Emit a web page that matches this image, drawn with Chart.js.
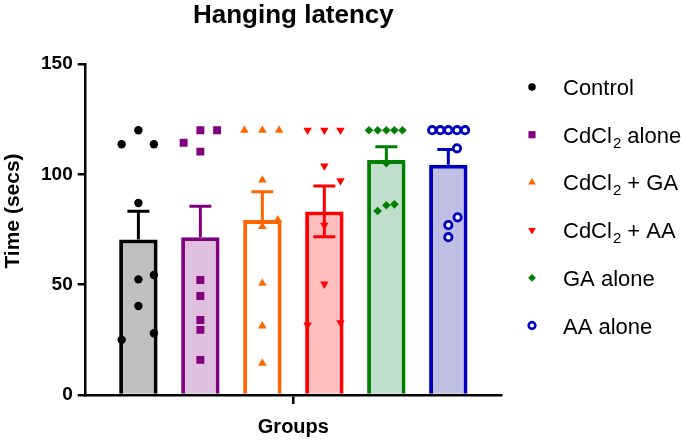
<!DOCTYPE html>
<html>
<head>
<meta charset="utf-8">
<title>Hanging latency</title>
<script src="https://cdn.jsdelivr.net/npm/chart.js@4.4.1/dist/chart.umd.min.js"></script>
<style>
    body { margin: 0; background: #fff; }
    #chart { display: block; }
</style>
</head>
<body>
<canvas id="chart" width="685" height="444"></canvas>
<script>
// Hanging latency: mean + SEM bars with the individual animals on top

const groups = ['Control', 'CdCl₂ alone', 'CdCl₂ + GA', 'CdCl₂ + AA', 'GA alone', 'AA alone'];
const means = [70.5, 71.5, 79.3, 83.2, 106.5, 104.3];
const sems = [12.8, 14.0, 12.8, 11.5, 6.0, 7.0];
const yTicks = [0, 50, 100, 150];

// individual values per group, with the horizontal spread
const controlValues = [120, 113.6, 113.6, 87, 54.4, 52.4, 40.3, 28, 25];
const controlJitter = [0, -0.27, 0.25, 0, 0.25, 0, 0, 0.25, -0.27];
const cdAloneValues = [120, 120, 114.3, 110.3, 52.1, 44.9, 34, 29.5, 15.9];
const cdAloneJitter = [0, 0.27, -0.27, 0, 0, 0, 0, 0, 0];
const cdGaValues = [120, 120, 120, 97.4, 79.3, 76.3, 50.6, 31.3, 14.4];
const cdGaJitter = [-0.29, 0, 0.27, 0, 0.25, 0, 0, 0, 0];
const cdAaValues = [120, 120, 120, 103.8, 97.1, 77, 50.3, 32.8, 31.7];
const cdAaJitter = [-0.27, 0, 0.26, 0, 0.26, 0, 0, 0.26, -0.27];
const gaValues = [120, 120, 120, 120, 120, 105, 86.4, 86, 83.4];
const gaJitter = [-0.28, -0.14, 0, 0.13, 0.26, 0, 0.13, 0, -0.14];
const aaValues = [120, 120, 120, 120, 120, 111.8, 80.5, 77, 71.5];
const aaJitter = [-0.26, -0.13, 0, 0.14, 0.27, 0.14, 0.15, 0, 0];

const pointValues = [controlValues, cdAloneValues, cdGaValues, cdAaValues, gaValues, aaValues];
const pointJitter = [controlJitter, cdAloneJitter, cdGaJitter, cdAaJitter, gaJitter, aaJitter];

// styles
const barFills = ['#bfbfbf', '#dfc0df', '#ffffff', '#ffbfbf', '#bfdfcc', '#bfbfe3'];
const lineColors = ['#000000', '#800080', '#ff6600', '#ff0000', '#008000', '#0000c0'];
const markers = [
    { style: 'circle', radius: 4.2, rotation: 0, fill: true },
    { style: 'rect', radius: 5.6, rotation: 0, fill: true },
    { style: 'triangle', radius: 4.9, rotation: 0, fill: true },
    { style: 'triangle', radius: 4.9, rotation: 180, fill: true },
    { style: 'rectRot', radius: 4.3, rotation: 0, fill: true },
    { style: 'circle', radius: 3.7, rotation: 0, fill: false }
];
const errorBoth = [false, false, false, true, false, false];

const FONT = '"Liberation Sans", Arial, Helvetica, sans-serif';

// scatter datasets first so they are drawn over the bars
const datasets = groups.map((name, g) => ({
    type: 'scatter',
    label: name,
    data: pointValues[g].map((v, i) => ({ x: g + 1 + pointJitter[g][i], y: v })),
    pointStyle: markers[g].style,
    pointRadius: markers[g].radius,
    rotation: markers[g].rotation,
    pointBackgroundColor: markers[g].fill ? lineColors[g] : '#ffffff',
    pointBorderColor: lineColors[g],
    pointBorderWidth: markers[g].fill ? 0 : 2.8,
    order: 1
}));

datasets.push({
    type: 'bar',
    label: 'Mean',
    data: means.map((m, g) => ({ x: g + 1, y: m })),
    backgroundColor: barFills,
    borderColor: lineColors,
    borderWidth: 4,
    borderSkipped: 'bottom',
    categoryPercentage: 1,
    barPercentage: 0.62,
    order: 2
});

// mean + SEM whiskers, drawn straight after the bars
const errorBars = {
    id: 'errorBars',
    afterDatasetDraw(chart, args) {
        if (args.meta.type !== 'bar') return;
        const ctx = chart.ctx;
        const y = chart.scales.y;
        ctx.save();
        ctx.lineWidth = 3;
        args.meta.data.forEach((bar, g) => {
            const top = y.getPixelForValue(means[g] + sems[g]);
            const mid = y.getPixelForValue(means[g]);
            const low = y.getPixelForValue(means[g] - sems[g]);
            ctx.strokeStyle = lineColors[g];
            ctx.beginPath();
            ctx.moveTo(bar.x, errorBoth[g] ? low : mid);
            ctx.lineTo(bar.x, top);
            ctx.moveTo(bar.x - 11, top);
            ctx.lineTo(bar.x + 11, top);
            if (errorBoth[g]) {
                ctx.moveTo(bar.x - 11, low);
                ctx.lineTo(bar.x + 11, low);
            }
            ctx.stroke();
        });
        ctx.restore();
    }
};

// title, y axis title and the legend with subscripts
const labels = {
    id: 'labels',
    afterDraw(chart) {
        const ctx = chart.ctx;
        const area = chart.chartArea;
        ctx.save();
        ctx.fillStyle = '#000';
        ctx.textAlign = 'center';
        ctx.textBaseline = 'alphabetic';
        ctx.font = 'bold 26px ' + FONT;
        ctx.fillText('Hanging latency', (area.left + area.right) / 2, 23);

        ctx.save();
        ctx.translate(13, 211);
        ctx.rotate(-Math.PI / 2);
        ctx.textBaseline = 'middle';
        ctx.font = 'bold 21px ' + FONT;
        ctx.fillText('Time (secs)', 0, 0);
        ctx.restore();

        ctx.textAlign = 'left';
        groups.forEach((name, g) => {
            const rowY = 87 + g * 47.7;
            const m = markers[g];
            ctx.fillStyle = m.fill ? lineColors[g] : '#ffffff';
            ctx.strokeStyle = lineColors[g];
            ctx.lineWidth = m.fill ? 0 : 2.6;
            Chart.helpers.drawPoint(ctx, {
                pointStyle: m.style,
                rotation: m.rotation,
                radius: m.radius * 0.9,
                borderWidth: m.fill ? 0 : 2.6
            }, 532, rowY);

            ctx.fillStyle = '#000';
            let x = 563;
            const base = rowY + 8;
            const parts = name.split('₂');
            parts.forEach((part, i) => {
                ctx.font = '22px ' + FONT;
                ctx.fillText(part, x, base);
                x += ctx.measureText(part).width;
                if (i < parts.length - 1) {
                    ctx.font = '15px ' + FONT;
                    ctx.fillText('2', x + 1, base + 5);
                    x += ctx.measureText('2').width + 1;
                }
            });
        });
        ctx.restore();
    }
};

new Chart(document.getElementById('chart'), {
    type: 'bar',
    data: { datasets: datasets },
    options: {
        responsive: false,
        animation: false,
        layout: { padding: { top: 64, right: 184, bottom: 5, left: 36 } },
        plugins: {
            legend: { display: false },
            title: { display: false },
            tooltip: { enabled: false }
        },
        scales: {
            x: {
                type: 'linear',
                min: 0.15,
                max: 6.85,
                offset: false,
                afterBuildTicks: scale => { scale.ticks = [{ value: (1 + groups.length) / 2 }]; },
                ticks: { display: false },
                grid: {
                    offset: false,
                    drawOnChartArea: false,
                    drawTicks: true,
                    tickLength: 9,
                    color: '#000',
                    lineWidth: 2.5
                },
                border: { display: true, color: '#000', width: 2.5 },
                title: {
                    display: true,
                    text: 'Groups',
                    color: '#000',
                    font: { family: FONT, size: 20, weight: 'bold' },
                    padding: { top: 11, bottom: 0 }
                }
            },
            y: {
                min: 0,
                max: 150,
                afterBuildTicks: scale => { scale.ticks = yTicks.map(v => ({ value: v })); },
                ticks: {
                    color: '#000',
                    padding: 5,
                    font: { family: FONT, size: 19, weight: 'bold' }
                },
                grid: {
                    drawOnChartArea: false,
                    drawTicks: true,
                    tickLength: 8,
                    color: '#000',
                    lineWidth: 2.5
                },
                border: { display: true, color: '#000', width: 2.5 }
            }
        }
    },
    plugins: [errorBars, labels]
});
</script>
</body>
</html>
